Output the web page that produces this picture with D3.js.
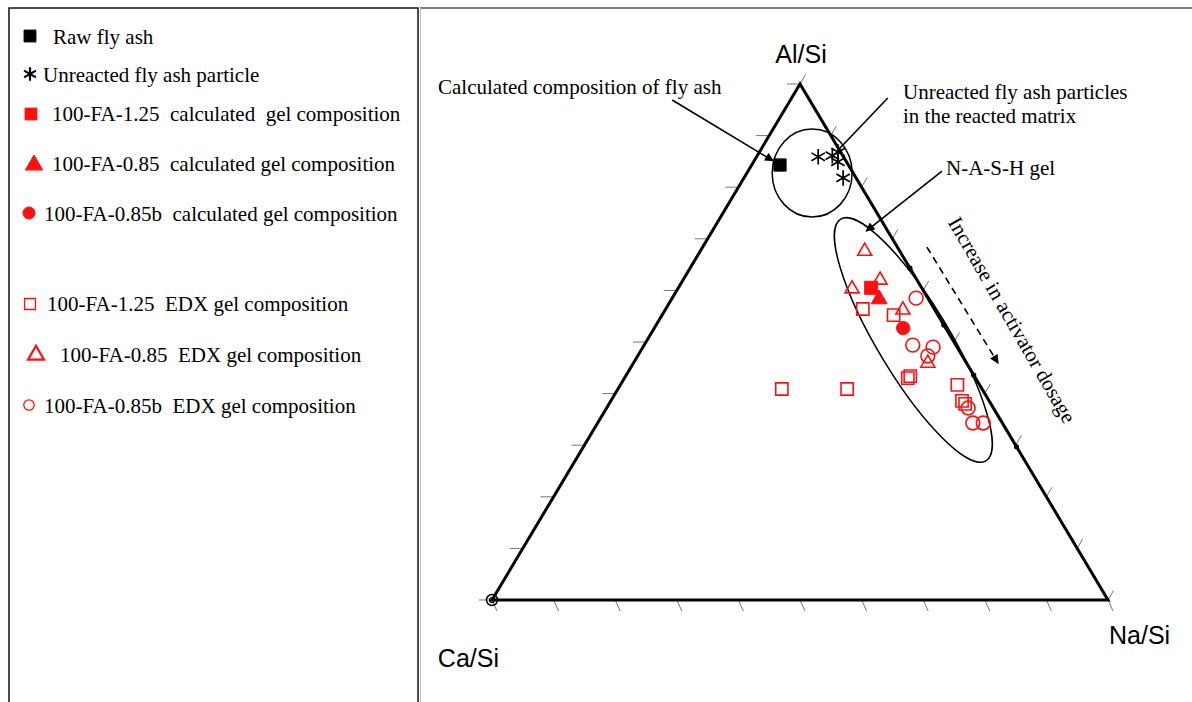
<!DOCTYPE html>
<html>
<head>
<meta charset="utf-8">
<script src="https://cdn.jsdelivr.net/npm/d3@7"></script>
<style>
  html, body { margin: 0; padding: 0; background: #fff; }
  svg { display: block; }
</style>
</head>
<body>
<svg id="chart" width="1192" height="702"></svg>
<script>
// ---------------- DATA (ternary fractions: al = Al/Si share, na = Na/Si share, Ca/Si = 1 - al - na)
const vertexLabels = ["Al/Si", "Ca/Si", "Na/Si"];
const tickFractions = [0, 0.1, 0.2, 0.3, 0.4, 0.5, 0.6, 0.7, 0.8, 0.9, 1];

const rawFlyAsh = [{ al: 0.843, na: 0.046 }];
const unreactedParticles = [
  { al: 0.859, na: 0.100 }, { al: 0.861, na: 0.122 }, { al: 0.868, na: 0.128 },
  { al: 0.849, na: 0.137 }, { al: 0.818, na: 0.161 }
];
const calc125 = [{ al: 0.605, na: 0.313 }];
const calc085 = [{ al: 0.583, na: 0.337 }];
const calc085b = [{ al: 0.527, na: 0.404 }];

const edx125 = [
  { al: 0.564, na: 0.320 }, { al: 0.552, na: 0.376 }, { al: 0.430, na: 0.460 },
  { al: 0.434, na: 0.462 }, { al: 0.417, na: 0.547 }, { al: 0.380, na: 0.578 },
  { al: 0.386, na: 0.570 }, { al: 0.409, na: 0.372 }, { al: 0.409, na: 0.266 }
];
const edx085 = [
  { al: 0.676, na: 0.267 }, { al: 0.620, na: 0.320 }, { al: 0.603, na: 0.283 },
  { al: 0.562, na: 0.386 }, { al: 0.459, na: 0.478 }
];
const edx085b = [
  { al: 0.585, na: 0.396 }, { al: 0.494, na: 0.436 }, { al: 0.490, na: 0.471 },
  { al: 0.473, na: 0.471 }, { al: 0.372, na: 0.587 }, { al: 0.343, na: 0.609 },
  { al: 0.343, na: 0.626 }
];
// dots on the Al/Si – Na/Si edge
const edgeDots = [
  { al: 0.643, na: 0.357 }, { al: 0.533, na: 0.467 }, { al: 0.436, na: 0.564 }, { al: 0.297, na: 0.703 }
];

const legendLabels = [
  "Raw fly ash",
  "Unreacted fly ash particle",
  "100-FA-1.25  calculated  gel composition",
  "100-FA-0.85  calculated gel composition",
  "100-FA-0.85b  calculated gel composition",
  "100-FA-1.25  EDX gel composition",
  "100-FA-0.85  EDX gel composition",
  "100-FA-0.85b  EDX gel composition"
];

// ---------------- SETUP
const svg = d3.select("#chart");
const RED = "#ff1010";
const serif = "'Liberation Serif', 'Times New Roman', serif";
const sans = "'Liberation Sans', Arial, sans-serif";

// horizontal coordinate = na + al/2, vertical = al
const xS = d3.scaleLinear().domain([0, 1]).range([492, 1108]);
const yS = d3.scaleLinear().domain([0, 1]).range([600, 84]);
const P = (al, na) => [xS(na + al / 2), yS(al)];

// defs: arrowhead
const defs = svg.append("defs");
defs.append("marker").attr("id", "ah").attr("viewBox", "0 0 10 10")
  .attr("refX", 9).attr("refY", 5).attr("markerWidth", 11).attr("markerHeight", 9)
  .attr("markerUnits", "userSpaceOnUse").attr("orient", "auto")
  .append("path").attr("d", "M0,0 L10,5 L0,10 Z").attr("fill", "#000");

// ---------------- FRAMES
svg.append("rect").attr("x", 9).attr("y", 8).attr("width", 409).attr("height", 720)
  .attr("fill", "none").attr("stroke", "#111").attr("stroke-width", 1.5);
svg.append("line").attr("x1", 420).attr("x2", 1192).attr("y1", 8).attr("y2", 8)
  .attr("stroke", "#555").attr("stroke-width", 1.5);
svg.append("line").attr("x1", 420.5).attr("x2", 420.5).attr("y1", 8).attr("y2", 702)
  .attr("stroke", "#bbb").attr("stroke-width", 1);

// ---------------- TERNARY AXES
const g = svg.append("g");
const tickG = g.append("g").attr("stroke", "#777").attr("stroke-width", 1);
tickFractions.forEach(t => {
  let [x, y] = P(0, t);
  tickG.append("line").attr("x1", x).attr("y1", y).attr("x2", x + 5).attr("y2", y + 11);
  [x, y] = P(t, 0);
  tickG.append("line").attr("x1", x).attr("y1", y).attr("x2", x - 13).attr("y2", y);
  [x, y] = P(t, 1 - t);
  tickG.append("line").attr("x1", x).attr("y1", y).attr("x2", x + 5.5).attr("y2", y - 9.5);
});

const tri = [P(1, 0), P(0, 0), P(0, 1)];
g.append("path").attr("d", d3.line()(tri) + "Z")
  .attr("fill", "none").attr("stroke", "#000").attr("stroke-width", 3).attr("stroke-linejoin", "miter");

const [cx0, cy0] = P(0, 0);
g.append("circle").attr("cx", cx0).attr("cy", cy0).attr("r", 5.5).attr("fill", "none").attr("stroke", "#000").attr("stroke-width", 1.5);
g.append("circle").attr("cx", cx0).attr("cy", cy0).attr("r", 2.5).attr("fill", "none").attr("stroke", "#000").attr("stroke-width", 1.2);

g.selectAll(".edot").data(edgeDots).join("circle")
  .attr("cx", d => P(d.al, d.na)[0]).attr("cy", d => P(d.al, d.na)[1])
  .attr("r", 2.6).attr("fill", "#000");

const [ax, ay] = P(1, 0), [nx, ny] = P(0, 1);
g.append("text").attr("x", ax + 1).attr("y", ay - 21).attr("text-anchor", "middle")
  .attr("font-family", sans).attr("font-size", 25).text(vertexLabels[0]);
g.append("text").attr("x", cx0 + 7).attr("y", cy0 + 67).attr("text-anchor", "end")
  .attr("font-family", sans).attr("font-size", 25).text(vertexLabels[1]);
g.append("text").attr("x", nx + 1).attr("y", ny + 44).attr("text-anchor", "start")
  .attr("font-family", sans).attr("font-size", 25).text(vertexLabels[2]);

// ---------------- ELLIPSES
const e1 = P(0.8275, 0.106);
g.append("ellipse").attr("cx", e1[0]).attr("cy", e1[1]).attr("rx", 40).attr("ry", 44)
  .attr("fill", "none").attr("stroke", "#000").attr("stroke-width", 1.5);
const e2 = P(0.504, 0.432);
g.append("ellipse").attr("cx", 0).attr("cy", 0).attr("rx", 141).attr("ry", 36)
  .attr("transform", `translate(${e2[0]},${e2[1]}) rotate(59)`)
  .attr("fill", "none").attr("stroke", "#000").attr("stroke-width", 1.5);

// ---------------- ANNOTATIONS
function arrow(a, b, dashed, head) {
  const p1 = P(a[0], a[1]), p2 = P(b[0], b[1]);
  const l = g.append("line").attr("x1", p1[0]).attr("y1", p1[1]).attr("x2", p2[0]).attr("y2", p2[1])
    .attr("stroke", "#000").attr("stroke-width", 1.6);
  if (dashed) l.attr("stroke-dasharray", "7,5");
  if (head) l.attr("marker-end", "url(#ah)");
}
arrow([0.969, -0.192], [0.851, 0.031], false, true);
arrow([0.973, 0.156], [0.872, 0.126], false, false);
arrow([0.831, 0.315], [0.715, 0.250], false, true);
arrow([0.684, 0.364], [0.459, 0.592], true, true);

const annFont = 21;
g.append("text").attr("x", 438).attr("y", 94).attr("font-family", serif).attr("font-size", annFont)
  .text("Calculated composition of fly ash");
g.append("text").attr("x", 903).attr("y", 99).attr("font-family", serif).attr("font-size", annFont)
  .text("Unreacted fly ash particles");
g.append("text").attr("x", 903).attr("y", 123).attr("font-family", serif).attr("font-size", annFont)
  .text("in the reacted matrix");
g.append("text").attr("x", 946).attr("y", 175).attr("font-family", serif).attr("font-size", annFont)
  .text("N-A-S-H gel");
g.append("text").attr("transform", "translate(1012,320) rotate(60)")
  .attr("text-anchor", "middle").attr("dominant-baseline", "central")
  .attr("font-family", serif).attr("font-size", annFont).text("Increase in activator dosage");

// ---------------- MARKERS
function plot(data, type, filled, size, color, sw) {
  const sym = d3.symbol().type(type).size(size);
  g.append("g").selectAll("path").data(data).join("path")
    .attr("transform", d => { const p = P(d.al, d.na); return `translate(${p[0]},${p[1]})`; })
    .attr("d", sym)
    .attr("fill", filled ? color : "none")
    .attr("stroke", color).attr("stroke-width", sw);
}
plot(rawFlyAsh, d3.symbolSquare, true, 150, "#000", 1);
plot(unreactedParticles, d3.symbolAsterisk, false, 170, "#000", 1.7);
plot(edx125, d3.symbolSquare, false, 150, RED, 1.6);
plot(edx085, d3.symbolTriangle, false, 85, RED, 1.6);
plot(edx085b, d3.symbolCircle, false, 150, RED, 1.6);
plot(calc125, d3.symbolSquare, true, 170, RED, 1);
plot(calc085, d3.symbolTriangle, true, 110, RED, 1);
plot(calc085b, d3.symbolCircle, true, 140, RED, 1);

// ---------------- LEGEND
const legend = svg.append("g");
const legendItems = [
  { sx: 30, sy: 36, tx: 53, ty: 44, type: d3.symbolSquare, size: 140, fill: "#000", stroke: "#000", sw: 1 },
  { sx: 30, sy: 74, tx: 43, ty: 82, type: d3.symbolAsterisk, size: 130, fill: "none", stroke: "#000", sw: 2.2 },
  { sx: 31, sy: 114, tx: 52, ty: 121, type: d3.symbolSquare, size: 140, fill: RED, stroke: RED, sw: 1 },
  { sx: 34, sy: 165, tx: 52, ty: 171, type: d3.symbolTriangle, size: 130, fill: RED, stroke: RED, sw: 1 },
  { sx: 29, sy: 213, tx: 44, ty: 221, type: d3.symbolCircle, size: 115, fill: RED, stroke: RED, sw: 1 },
  { sx: 30, sy: 304, tx: 47, ty: 311, type: d3.symbolSquare, size: 120, fill: "none", stroke: RED, sw: 1.3 },
  { sx: 36, sy: 355, tx: 60, ty: 362, type: d3.symbolTriangle, size: 110, fill: "none", stroke: RED, sw: 2.2 },
  { sx: 29, sy: 405, tx: 44, ty: 413, type: d3.symbolCircle, size: 85, fill: "none", stroke: RED, sw: 1.3 }
];
legendItems.forEach((it, i) => {
  legend.append("path").attr("transform", `translate(${it.sx},${it.sy})`)
    .attr("d", d3.symbol().type(it.type).size(it.size)())
    .attr("fill", it.fill).attr("stroke", it.stroke).attr("stroke-width", it.sw);
  legend.append("text").attr("x", it.tx).attr("y", it.ty)
    .attr("font-family", serif).attr("font-size", 21).attr("xml:space", "preserve")
    .style("white-space", "pre").text(legendLabels[i]);
});
</script>
</body>
</html>
